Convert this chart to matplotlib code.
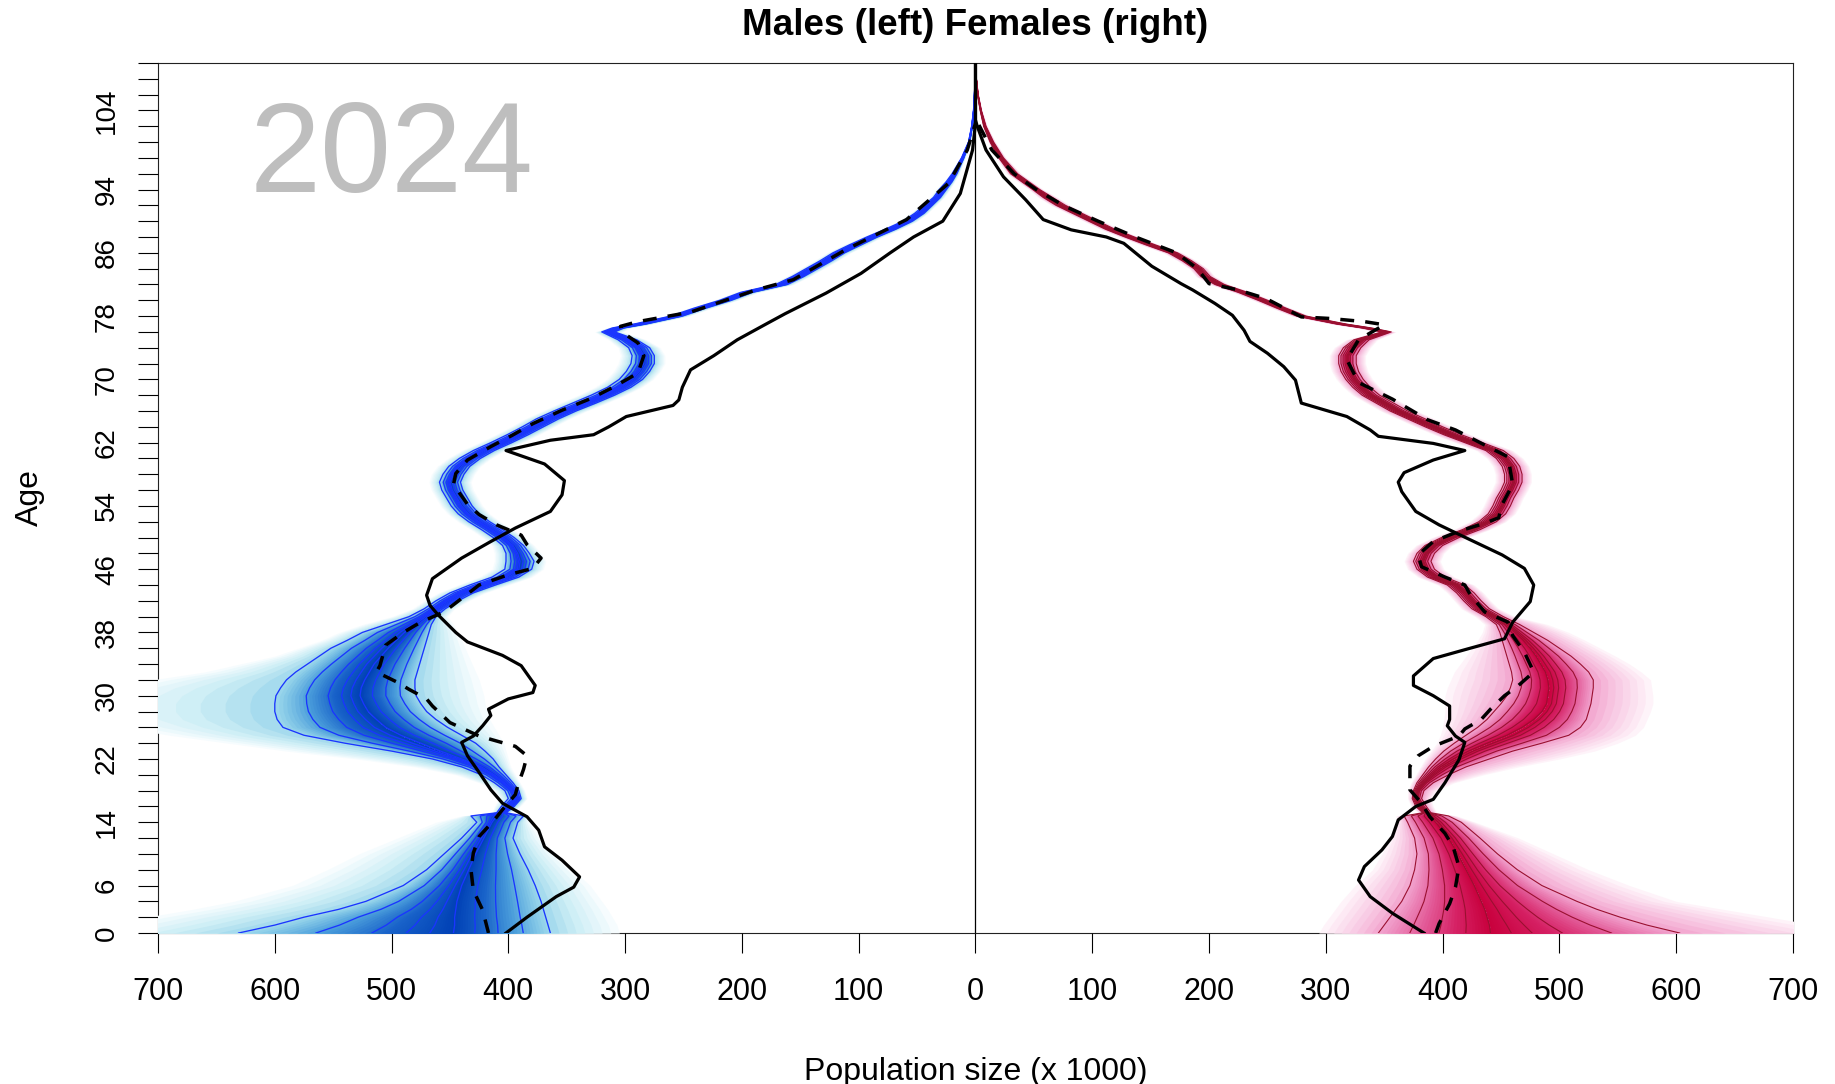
import numpy as np
import matplotlib.pyplot as plt
from matplotlib.colors import LinearSegmentedColormap

plt.rcParams['font.family'] = ['Liberation Sans', 'DejaVu Sans']

# ---------------- data (population in thousands) ----------------
# males: projected fan (median, outermost quantile lines, edge of shading)
m_age = [0, 1, 2, 3, 4, 6, 8, 10, 12, 14, 14.8, 15.2, 16, 17, 18, 19, 20, 21, 22, 23,
         24, 25, 26, 27, 28, 29, 30, 31, 32, 33, 34, 35, 36, 37, 38, 39, 40, 41, 42, 43,
         44, 45, 46, 47, 48, 49, 50, 51, 52, 53, 54, 55, 56, 57, 58, 59, 60, 61, 62, 63,
         64, 65, 66, 67, 68, 69, 70, 71, 72, 73, 74, 75, 76, 76.5, 77, 78, 79, 80, 81, 82,
         83, 84, 85, 86, 87, 88, 89, 90, 91, 92, 93, 94, 95, 96, 98, 100, 102, 104, 106, 108, 110]
m_med = [447, 446, 446, 445, 444, 440, 434, 428, 421, 414, 410, 406, 400, 393, 396, 403, 412, 423, 440, 458,
         475, 492, 505, 513, 520, 524, 527, 526, 523, 519, 515, 509, 503, 496, 489, 480, 471, 462, 452, 440,
         422, 402, 391, 390, 392, 396, 404, 414, 425, 434, 440, 444, 448, 450, 447, 442, 433, 421, 406, 392,
         379, 366, 351, 334, 318, 304, 294, 288, 284, 284, 288, 298, 315, 306, 287, 256, 236, 214, 196, 166,
         152, 140, 128, 117, 103, 88, 72, 58, 48, 40, 33, 28, 22, 18, 11, 5.5, 3, 1.5, 0.8, 0.3, 0]
m_hi = [631, 600, 575, 545, 522, 490, 470, 455, 440, 427, 432, 410, 406, 400, 403, 412, 423, 440, 465, 500,
        540, 575, 593, 598, 600, 600, 599, 595, 590, 582, 572, 562, 552, 538, 525, 505, 485, 472, 462, 450,
        433, 414, 403, 402, 402, 405, 413, 423, 434, 443, 449, 453, 457, 459, 456, 451, 442, 430, 415, 401,
        388, 376, 361, 345, 329, 315, 305, 299, 295, 294, 297, 306, 320, 311, 292, 261, 241, 219, 201, 171,
        157, 145, 133, 122, 108, 93, 77, 62, 52, 44, 36, 31, 25, 20, 12, 6, 3.3, 1.7, 0.9, 0.35, 0]
m_lo = [364, 366, 368, 370, 372, 377, 383, 390, 396, 392, 387, 402, 395, 389, 391, 396, 402, 408, 413, 420,
        428, 440, 452, 462, 470, 475, 479, 480, 480, 478, 476, 474, 472, 470, 468, 466, 462, 454, 443, 430,
        411, 391, 380, 378, 382, 387, 395, 405, 416, 425, 431, 435, 439, 441, 438, 433, 424, 412, 397, 383,
        370, 357, 342, 325, 309, 295, 285, 279, 275, 275, 279, 290, 309, 301, 282, 251, 231, 209, 191, 161,
        147, 135, 123, 112, 98, 84, 68, 54, 44, 37, 30, 25, 20, 16, 10, 5, 2.7, 1.3, 0.7, 0.25, 0]
m_ehi = [780, 745, 710, 670, 635, 585, 555, 528, 495, 462, 440, 414, 412, 408, 412, 425, 445, 480, 530, 590,
         640, 690, 730, 760, 770, 770, 760, 740, 705, 660, 630, 600, 580, 560, 545, 525, 500, 482, 472, 460,
         443, 425, 414, 412, 412, 414, 422, 432, 443, 452, 458, 462, 466, 468, 466, 461, 452, 440, 425, 411,
         398, 386, 371, 356, 340, 326, 316, 310, 306, 304, 306, 314, 326, 316, 297, 266, 246, 224, 206, 176,
         162, 150, 138, 127, 113, 97, 81, 66, 56, 47, 39, 34, 27, 22, 13, 7, 3.5, 1.8, 1, 0.4, 0]
m_elo = [305, 307, 311, 315, 320, 330, 345, 360, 372, 382, 384, 398, 390, 384, 386, 390, 394, 398, 400, 402,
         404, 408, 412, 416, 418, 420, 421, 423, 425, 428, 431, 434, 437, 440, 443, 447, 452, 446, 434, 420,
         400, 380, 370, 368, 372, 378, 386, 396, 407, 416, 422, 426, 430, 432, 429, 424, 415, 403, 388, 374,
         361, 348, 333, 316, 300, 286, 276, 270, 266, 266, 270, 282, 302, 296, 277, 246, 226, 204, 186, 156,
         142, 130, 118, 107, 93, 80, 64, 50, 41, 34, 27, 22, 18, 14, 9, 4, 2.5, 1.2, 0.6, 0.2, 0]

# females: projected fan
f_age = [0, 1, 2, 3, 4, 6, 8, 10, 12, 14, 14.8, 15.2, 16, 17, 18, 19, 20, 21, 22, 23,
         24, 25, 26, 27, 28, 29, 30, 31, 32, 33, 34, 35, 36, 37, 38, 39, 40, 41, 42, 43,
         44, 45, 46, 47, 48, 49, 50, 51, 52, 53, 54, 55, 56, 57, 58, 59, 60, 61, 62, 63,
         64, 65, 66, 67, 68, 69, 70, 71, 72, 73, 74, 75, 76, 76.5, 77, 78, 79, 80, 81, 82,
         83, 84, 85, 86, 87, 88, 89, 90, 91, 92, 93, 94, 96, 98, 100, 102, 104, 106, 108, 110]
f_med = [441, 440, 438, 436, 433, 427, 420, 413, 405, 394, 389, 386, 381, 377, 378, 383, 390, 398, 409, 422,
         438, 455, 468, 478, 485, 489, 490, 491, 490, 488, 484, 480, 475, 469, 462, 455, 444, 432, 425, 419,
         411, 394, 385, 382, 385, 392, 406, 424, 438, 446, 450, 453, 457, 460, 460, 458, 453, 444, 426, 408,
         392, 377, 362, 350, 338, 330, 324, 320, 318, 318, 322, 330, 352, 335, 313, 279, 262, 246, 229, 209,
         197, 191, 181, 169, 150, 132, 115, 101, 87, 73, 62, 52, 33, 22, 14, 8, 4.5, 2, 0.7, 0]
f_hi = [603, 575, 552, 532, 515, 485, 464, 447, 432, 416, 405, 390, 386, 382, 384, 392, 405, 420, 440, 460,
        485, 508, 518, 523, 525, 527, 528, 529, 529, 525, 518, 510, 500, 490, 478, 466, 452, 440, 433, 427,
        419, 402, 393, 390, 393, 400, 414, 432, 446, 454, 458, 461, 465, 468, 468, 466, 461, 452, 434, 416,
        400, 385, 370, 358, 346, 338, 332, 328, 326, 326, 330, 337, 356, 339, 317, 283, 266, 250, 233, 213,
        201, 195, 185, 173, 154, 136, 119, 105, 91, 77, 66, 55, 36, 24, 15.5, 9, 5, 2.3, 0.8, 0]
f_lo = [345, 350, 355, 360, 365, 372, 376, 378, 376, 370, 367, 383, 377, 374, 375, 378, 383, 388, 394, 401,
        410, 420, 430, 438, 444, 450, 455, 458, 460, 459, 457, 455, 453, 451, 449, 446, 437, 425, 418, 412,
        404, 387, 378, 375, 378, 385, 399, 417, 431, 439, 443, 446, 450, 453, 453, 451, 446, 437, 419, 401,
        385, 370, 355, 343, 331, 323, 317, 313, 311, 311, 315, 324, 348, 331, 309, 275, 258, 242, 225, 205,
        193, 187, 177, 165, 146, 128, 111, 97, 83, 69, 58, 49, 30, 20, 12.5, 7, 4, 1.7, 0.6, 0]
f_ehi = [760, 720, 680, 640, 600, 560, 525, 495, 465, 428, 412, 395, 392, 390, 395, 410, 435, 465, 500, 530,
         550, 565, 572, 575, 578, 580, 580, 579, 578, 570, 560, 548, 535, 522, 508, 490, 462, 448, 441, 435,
         427, 410, 401, 398, 401, 408, 422, 440, 454, 462, 466, 469, 473, 476, 476, 474, 469, 460, 442, 424,
         408, 393, 378, 366, 354, 346, 340, 336, 334, 334, 338, 344, 360, 343, 321, 287, 270, 254, 237, 217,
         205, 199, 189, 177, 158, 140, 123, 109, 95, 81, 70, 58, 39, 26, 17, 10, 5.5, 2.6, 0.9, 0]
f_elo = [294, 298, 303, 308, 313, 325, 340, 348, 355, 360, 360, 379, 373, 370, 370, 373, 377, 381, 385, 390,
         395, 398, 400, 401, 402, 402, 402, 404, 407, 410, 415, 420, 425, 430, 434, 436, 428, 416, 410, 404,
         396, 379, 370, 367, 370, 377, 391, 409, 423, 431, 435, 438, 442, 445, 445, 443, 438, 429, 411, 393,
         377, 362, 347, 335, 323, 315, 309, 305, 303, 303, 307, 317, 344, 327, 305, 271, 254, 238, 221, 201,
         189, 183, 173, 161, 142, 124, 107, 93, 79, 65, 54, 46, 27, 18, 11, 6, 3.5, 1.4, 0.5, 0]

# black solid line (comparison year)
m_obs_age = [0, 2, 4.6, 5.8, 7.1, 9.2, 10.9, 13, 14.7, 16.4, 18.1, 20.3, 22.4, 24.1, 24.9, 26.2, 27.5,
             28.3, 29.6, 30.4, 31.3, 33.8, 35.1, 36.8, 38, 40.2, 41.4, 42.7, 44.8, 47.4, 49.5, 51.2,
             53.3, 55.4, 57.2, 59.3, 61, 62.3, 63, 64, 65.3, 66.7, 67.4, 69, 71.2, 73, 75, 77.1, 78.3,
             80.9, 83.4, 86, 88, 90, 93.5, 99, 102.4, 110]
m_obs = [402, 384, 359, 344, 339, 354, 369, 374, 384, 405, 415, 425, 435, 440, 430, 422, 415,
         417, 400, 379, 377, 389, 405, 435, 445, 460, 467, 470, 465, 440, 415, 394,
         364, 354, 352, 369, 402, 364, 327, 314, 299, 259, 254, 251, 244, 224, 204, 178, 163,
         128, 98, 73, 53, 28, 13, 2.5, 0, 0]
f_obs_age = [0, 2.5, 4.6, 6.7, 8.4, 10.5, 12.2, 14.3, 16, 16.9, 19, 21.9, 24.1, 24.9, 26.2, 27,
             28.7, 30, 31.3, 32.5, 34.7, 35.9, 37.2, 39.3, 41.9, 44, 46.1, 47.8, 49.9, 51.6, 53.3,
             55.8, 57, 58.2, 59.8, 61, 61.9, 62.8, 63.6, 65.3, 67, 69.9, 71.6, 73.3, 74.8, 76.2,
             78.1, 79.6, 81.3, 82.1, 84.3, 87.2, 88, 88.9, 90.2, 92.7, 95.6, 99, 102, 102.8, 110]
f_obs = [384, 357, 338, 328, 333, 348, 357, 362, 377, 392, 402, 414, 419, 411, 404, 406,
         406, 392, 375, 375, 392, 421, 453, 460, 475, 478, 470, 451, 421, 397, 377,
         365, 362, 367, 392, 419, 392, 345, 338, 318, 279, 274, 264, 250, 235, 230,
         220, 205, 186, 176, 151, 127, 112, 82, 58, 43, 24, 9, 1.5, 0, 0]

# black dashed line
m_dash_age = [0, 2.9, 5.4, 8, 10.1, 12.2, 14.3, 15.6, 17.5, 18.6, 20.7, 22.4, 23.6, 24.9, 26.6,
              28.7, 29.6, 30.8, 31.7, 33, 33.8, 36.4, 38, 39.3, 40.6, 42.3, 44, 45.3, 46.1, 47.4,
              49.1, 50.3, 51.6, 52.9, 54.2, 56.7, 58.1, 59.8, 61.5, 62.9, 64.4, 66.1, 67.6, 69.1,
              70.8, 73, 74.6, 75.9, 76.7, 77.3, 78.5, 80, 81.3, 82.6, 86.4, 90.2, 94.8, 99, 102.4]
m_dash = [417, 422, 430, 432, 430, 425, 412, 405, 394, 392, 387, 384, 394, 425, 450,
          465, 470, 485, 495, 513, 510, 505, 490, 475, 455, 440, 425, 400, 379, 372,
          384, 389, 410, 425, 435, 447, 445, 435, 415, 397, 379, 354, 329, 309,
          289, 284, 289, 302, 304, 289, 244, 214, 188, 156, 111, 59, 23, 7, 0]
f_dash_age = [0, 1.2, 3.7, 5.8, 8.4, 10.9, 12.6, 14.7, 16.4, 18.1, 19.8, 21.1, 22.4, 23.6, 24.9,
              25.8, 27, 28.3, 30, 31.3, 33, 35.5, 37.6, 39.3, 40.6, 42.7, 44, 45, 46.3, 47.8,
              49.5, 50.8, 51.8, 52.5, 54.2, 56.7, 60.2, 61.7, 63.6, 64.9, 67.5, 69.6, 72.5, 75,
              76.9, 77.3, 77.7, 77.9, 80.2, 81.3, 82.1, 84, 86, 88, 90, 92, 94, 96, 99, 103]
f_dash = [394, 397, 406, 411, 414, 409, 402, 389, 382, 372, 372, 372, 379, 392, 414,
          419, 433, 441, 453, 465, 478, 470, 460, 456, 436, 424, 419, 402, 382, 379,
          392, 414, 436, 448, 451, 460, 456, 436, 411, 387, 357, 328, 318, 328,
          350, 333, 303, 279, 249, 225, 200, 190, 172, 137, 105, 75, 52, 33, 14, 0]

x_ticks = list(range(-700, 701, 100))
y_ticks = list(range(0, 111, 2))
y_labels = [0, 6, 14, 22, 30, 38, 46, 54, 62, 70, 78, 86, 94, 104]
year_label = '2024'

# ---------------- drawing ----------------
male_cmap = LinearSegmentedColormap.from_list(
    'm', ['#F6FCFE', '#CDEEF5', '#93D2EA', '#4B9EDB', '#1862C9', '#0040B5'])
female_cmap = LinearSegmentedColormap.from_list(
    'f', ['#FEF3F9', '#F8CAE4', '#F09AC8', '#E35C99', '#D52063', '#C8003C'])

# relative position of the quantile lines between the median and the outermost line
hi_frac = [1.0, 0.64, 0.38, 0.22, 0.11]
lo_frac = [1.0, 0.72, 0.46, 0.22]


def draw_fan(ax, age, med, hi, lo, ehi, elo, sign, cmap, line_col, lw, nsub=8):
    age = np.asarray(age, float)
    med = np.asarray(med, float)
    for edge, outer, frac in ((ehi, hi, hi_frac), (elo, lo, lo_frac)):
        edge = np.asarray(edge, float)
        outer = np.asarray(outer, float)
        bounds = [edge] + [med + f * (outer - med) for f in frac] + [med]
        levels = [0.0] + [1 - 0.62 * f for f in frac] + [1.0]
        for k in range(len(bounds) - 1):
            for s in range(nsub):
                t = s / nsub
                b = bounds[k] + t * (bounds[k + 1] - bounds[k])
                lev = levels[k] + t * (levels[k + 1] - levels[k])
                ax.fill_betweenx(age, sign * b, sign * med, color=cmap(lev),
                                 lw=0, zorder=2)
        for f in frac:
            ax.plot(sign * (med + f * (outer - med)), age, color=line_col,
                    lw=lw, zorder=3)
    ax.plot(sign * med, age, color=line_col, lw=lw, zorder=3)


fig = plt.figure(figsize=(18.35, 10.84), dpi=100)
ax = fig.add_axes([0.0861, 0.1393, 0.8910, 0.8026])

ax.axvline(0, color='black', lw=0.9, zorder=1.5)

draw_fan(ax, m_age, m_med, m_hi, m_lo, m_ehi, m_elo, -1, male_cmap, '#1A35FF', 0.95)
draw_fan(ax, f_age, f_med, f_hi, f_lo, f_ehi, f_elo, 1, female_cmap, '#9A1030', 0.8)

ax.plot(-np.asarray(m_obs), m_obs_age, color='black', lw=2.3, zorder=4)
ax.plot(f_obs, f_obs_age, color='black', lw=2.3, zorder=4)
ax.plot(-np.asarray(m_dash), m_dash_age, color='black', lw=2.5,
        linestyle=(0, (4, 3.2)), zorder=4)
ax.plot(f_dash, f_dash_age, color='black', lw=2.5,
        linestyle=(0, (4, 3.2)), zorder=4)

ax.text(-500, 97.8, year_label, fontsize=92, color='#BEBEBE',
        ha='center', va='center', zorder=1)

ax.set_xlim(-700, 700)
ax.set_ylim(0, 110)
ax.set_xticks(x_ticks)
ax.set_xticklabels([str(abs(v)) for v in x_ticks])
ax.set_yticks(y_ticks)
ax.set_yticklabels([str(v) if v in y_labels else '' for v in y_ticks],
                   rotation=90, va='center')
ax.tick_params(axis='x', direction='out', length=14.5, width=0.8, pad=17, labelsize=22)
ax.tick_params(axis='y', direction='out', length=14.4, width=0.8, pad=13, labelsize=20)
for sp in ax.spines.values():
    sp.set_linewidth(0.8)
    sp.set_color('#222222')
    sp.set_zorder(1)

ax.set_title('Males (left) Females (right)', fontsize=26.5, fontweight='bold', pad=20)
ax.set_xlabel('Population size (x 1000)', fontsize=23, labelpad=36)
ax.set_ylabel('Age', fontsize=23, labelpad=35)

fig.savefig('out.png', dpi=100)
